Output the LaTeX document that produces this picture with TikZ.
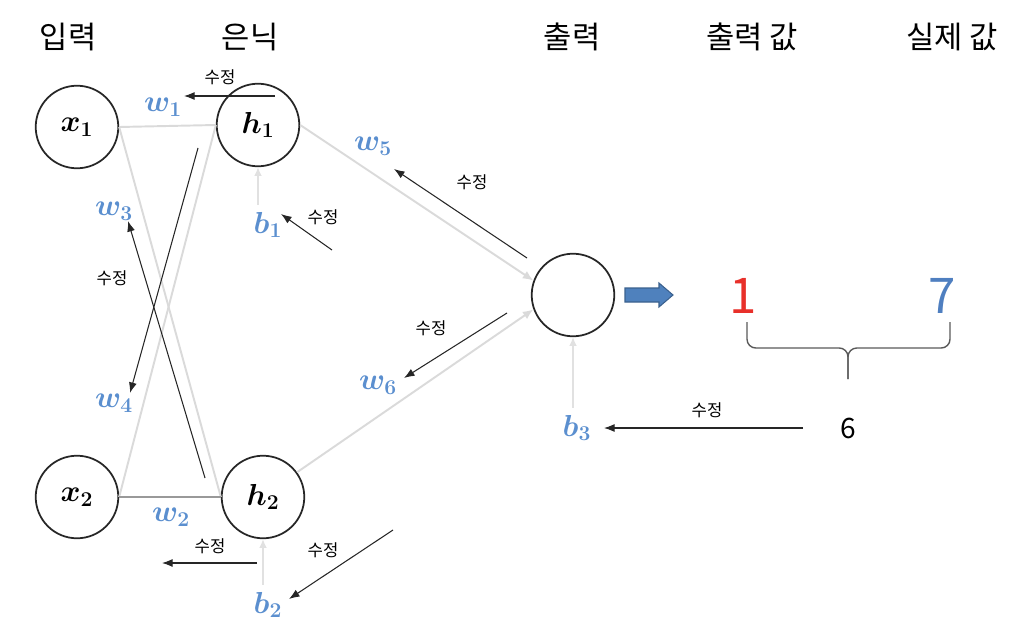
\documentclass[tikz,border=0pt]{standalone}
\usepackage{fontspec}
\usepackage{amsmath,bm}
\newfontfamily\kr{Noto Sans CJK KR}
\usetikzlibrary{arrows.meta}
\definecolor{wblue}{HTML}{5B8FCF}
\definecolor{nred}{HTML}{E8302A}
\definecolor{nblue}{HTML}{4F7FC0}
\definecolor{barrow}{HTML}{4F81BD}
\definecolor{lgray}{HTML}{DADADA}
\tikzset{
  hdr/.style={font=\kr\fontsize{17.5}{20}\selectfont, inner sep=0},
  neuron/.style={circle, draw=black!85, line width=1pt, minimum size=47pt, inner sep=0, font=\boldmath\fontsize{17.5}{20}\selectfont},
  wlab/.style={text=wblue, font=\boldmath\fontsize{17.5}{20}\selectfont, inner sep=0},
  fixlab/.style={font=\kr\fontsize{9.5}{11}\selectfont, inner sep=0},
  conn/.style={draw=lgray, line width=1.1pt},
  connarr/.style={draw=lgray, line width=1.1pt, -{Latex[length=6pt,width=5pt]}},
  biasarr/.style={draw=lgray!80, line width=0.9pt, -{Latex[length=5pt,width=4.5pt]}},
  fix/.style={draw=black!85, line width=0.6pt, -{Latex[length=6pt,width=4.5pt]}},
}
\begin{document}
\begin{tikzpicture}[x=0.02cm,y=-0.02cm]
\useasboundingbox (0,0) rectangle (1034,642);
% headers
\node[hdr] (t1) at (68,37) {입력};
\node[hdr] (t2) at (250,37) {은닉};
\node[hdr] (t3) at (572,37) {출력};
\node[hdr] (t4) at (752,37) {출력 값};
\node[hdr] (t5) at (952,37) {실제 값};
% neurons
\node[neuron] (x1) at (77,127) {$x_1$};
\node[neuron] (h1) at (258,125) {$h_1$};
\node[neuron] (x2) at (77,497) {$x_2$};
\node[neuron] (h2) at (263,497) {$h_2$};
\node[neuron] (out) at (573,295) {};
% bias labels
\node[wlab] (b1) at (268,225) {$b_1$};
\node[wlab] (b2) at (268,605) {$b_2$};
\node[wlab] (b3) at (577,428) {$b_3$};
% weight labels
\node[wlab] (w1) at (163,107) {$w_1$};
\node[wlab] (w2) at (171,517) {$w_2$};
\node[wlab] (w3) at (114,211) {$w_3$};
\node[wlab] (w4) at (114,403) {$w_4$};
\node[wlab] (w5) at (373,146) {$w_5$};
\node[wlab] (w6) at (378,385) {$w_6$};
% forward connections
\draw[conn] (x1.east) -- (h1.west);
\draw[conn] (x1.east) -- (h2.west);
\draw[conn] (x2.east) -- (h1.west);
\draw[draw=gray!80, line width=1.1pt] (x2.east) -- (h2.west);
\draw[connarr] (h1.east) -- (out.160);
\draw[connarr] (h2.36) -- (out.200);
\draw[biasarr, shorten <=4pt] (h1.south |- b1.north) -- (h1.south);
\draw[biasarr, shorten <=4pt] (h2.south |- b2.north) -- (h2.south);
\draw[biasarr, shorten <=4pt] (out.south |- b3.north) -- (out.south);
% output arrow
\draw[fill=barrow, draw=barrow!75!black, line width=0.6pt]
  (625,288) -- (659,288) -- (659,283) -- (673,295) -- (659,307) -- (659,302) -- (625,302) -- cycle;
% values
\node[font=\kr\fontsize{28}{32}\selectfont, text=nred, inner sep=0] (v1) at (743,296) {1};
\node[font=\kr\fontsize{28}{32}\selectfont, text=nblue, inner sep=0] (v7) at (942,296) {7};
\node[font=\kr\fontsize{16}{19}\selectfont, inner sep=0] (v6) at (848,428) {6};
% brace
\coordinate (bl) at (747,322);
\coordinate (br) at (950,322);
\coordinate (bm) at (848,348);
\coordinate (bt) at (848,379);
\draw[black!65, line width=0.8pt, rounded corners=5pt] (bl) -- (bl |- bm) -- (bm) -- (bt);
\draw[black!65, line width=0.8pt, rounded corners=5pt] (br) -- (br |- bm) -- (bm) -- (bt);
% correction arrows
\coordinate (a1s) at (275,96);  \coordinate (a1e) at (184,96);
\draw[fix] (a1s) -- (a1e);
\node[fixlab] (f1) at (220,77) {수정};
\coordinate (a2s) at (332,250); \coordinate (a2e) at (281,214);
\draw[fix] (a2s) -- (a2e);
\node[fixlab] (f2) at (323,217) {수정};
\coordinate (a3s) at (527,258); \coordinate (a3e) at (394,169);
\draw[fix] (a3s) -- (a3e);
\node[fixlab] (f3) at (472,182) {수정};
\coordinate (a4s) at (507,313); \coordinate (a4e) at (404,378);
\draw[fix] (a4s) -- (a4e);
\node[fixlab] (f4) at (431,328) {수정};
\coordinate (a5s) at (803,428); \coordinate (a5e) at (604,428);
\draw[fix] (a5s) -- (a5e);
\node[fixlab] (f5) at (707,410) {수정};
\coordinate (a6s) at (257,563); \coordinate (a6e) at (162,563);
\draw[fix] (a6s) -- (a6e);
\node[fixlab] (f6) at (210,546) {수정};
\coordinate (a7s) at (393,530); \coordinate (a7e) at (289,599);
\draw[fix] (a7s) -- (a7e);
\node[fixlab] (f7) at (323,550) {수정};
\coordinate (a8s) at (205,478); \coordinate (a8e) at (128,221);
\draw[fix] (a8s) -- (a8e);
\coordinate (a9s) at (198,148); \coordinate (a9e) at (130,393);
\draw[fix] (a9s) -- (a9e);
\node[fixlab] (f8) at (112,278) {수정};
\end{tikzpicture}
\end{document}
